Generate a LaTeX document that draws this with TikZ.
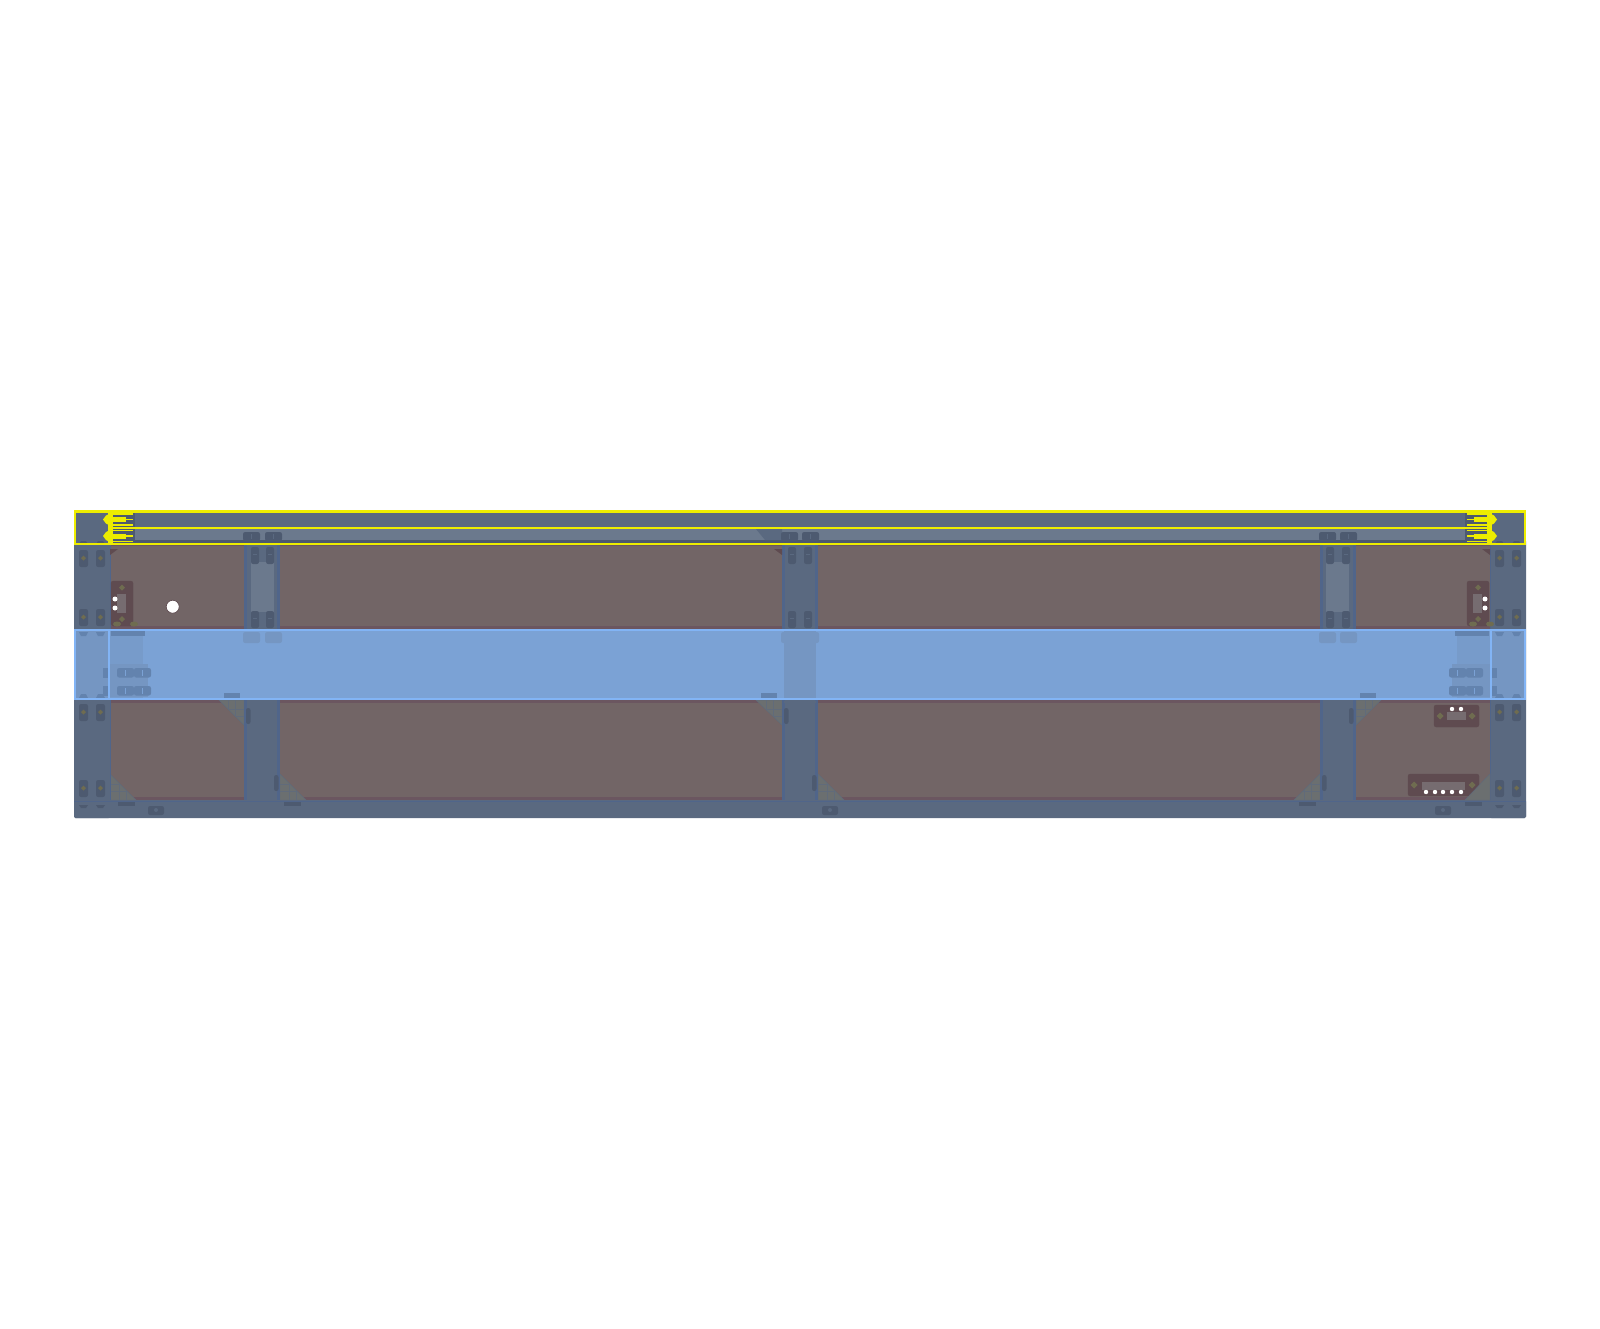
\documentclass[tikz,border=0pt]{standalone}
\definecolor{steelc}{HTML}{5A6980}
\definecolor{lightc}{HTML}{6B798D}
\definecolor{edgec}{HTML}{50658A}
\definecolor{slotc}{HTML}{4D5A70}
\definecolor{panelc}{HTML}{726566}
\definecolor{panelb}{HTML}{6B5660}
\definecolor{connc}{HTML}{5F4B50}
\definecolor{connin}{HTML}{766C70}
\definecolor{olivec}{HTML}{6F6C50}
\definecolor{gussetc}{HTML}{6B6F70}
\definecolor{bandc}{HTML}{7BA2D5}
\definecolor{bandl}{HTML}{82B4F5}
\definecolor{bandg}{HTML}{7596C2}
\definecolor{bands}{HTML}{6383AE}
\definecolor{yel}{HTML}{EDED00}
\tikzset{
  steel/.style={fill=steelc},
  slotbox/.style={fill=slotc, rounded corners=3pt},
  gusset/.style={fill=gussetc, draw=steelc!70!gussetc, line width=0.7pt},
  conn/.style={fill=connc, draw=connc, rounded corners=3pt},
  pin/.style={fill=olivec},
  hole/.style={fill=white},
  bandtab/.style={fill=bands, rounded corners=3pt},
  yline/.style={draw=yel, line width=3pt},
  ythin/.style={draw=yel, line width=2.6pt}
}
\begin{document}
\begin{tikzpicture}[x=0.05cm,y=-0.05cm]
  \useasboundingbox (0,0) rectangle (1600,1329);
  \fill[white] (0,0) rectangle (1600,1329);

  % panels
  \fill[panelc] (110,540) rectangle (1490,800);
  \fill[panelb] (110,540) rectangle (1490,546);
  \fill[panelb] (110,626) rectangle (1490,630);
  \fill[panelb] (110,699) rectangle (1490,703);
  \fill[panelb] (110,797) rectangle (1490,800);

  % gussets
  \foreach \ax/\ay/\bx/\by/\cx/\cy in {110/774/110/800/136/800, 219/700/244/700/244/725,
      280/774/280/800/306/800, 756/700/782/700/782/725, 818/774/818/800/844/800,
      1320/774/1320/800/1294/800, 1381/700/1356/700/1356/725} {
    \filldraw[gusset] (\ax,\ay) -- (\bx,\by) -- (\cx,\cy) -- cycle;
    \begin{scope}
      \clip (\ax,\ay) -- (\bx,\by) -- (\cx,\cy) -- cycle;
      \draw[steelc!60!gussetc, line width=0.5pt, shift={(\bx,\by)}]
        (-30,-9) -- (30,-9) (-30,-16) -- (30,-16) (-30,9) -- (30,9) (-30,16) -- (30,16)
        (-9,-30) -- (-9,30) (-16,-30) -- (-16,30) (9,-30) -- (9,30) (16,-30) -- (16,30);
    \end{scope}
  }

  % columns and rails
  \fill[steel, rounded corners=2pt] (74,540) rectangle (110,818);
  \fill[steel, rounded corners=2pt] (1490,540) rectangle (1526,818);
  \fill[steel, rounded corners=2pt] (74,800) rectangle (1526,818);
  \draw[edgec, line width=1pt] (74,801) -- (1526,801);
  \draw[edgec, line width=1pt] (110,544) -- (110,800) (1490,544) -- (1490,800);
  \foreach \vx in {244,782,1320} {
    \fill[steel] (\vx,540) rectangle ++(36,260);
    \fill[edgec] (\vx,540) rectangle ++(3,260);
    \fill[edgec] (\vx+33,540) rectangle ++(3,260);
  }
  \fill[lightc] (251,562) rectangle (274,612);
  \fill[lightc] (1326,562) rectangle (1349,612);

  % top rail
  \fill[steel] (74,511) rectangle (1526,544);
  \fill[lightc] (110,528) rectangle (1490,540);
  \fill[steelc!85!black] (110,540) rectangle (1490,544);
  \fill[steel] (756,529) -- (782,529) -- (782,540) -- (765,540) -- cycle;
  \fill[steel] (761,523) rectangle (778,528);
  \fill[connc] (110,549) -- (118,549) -- (110,555) -- cycle;
  \fill[connc] (774,549) -- (782,549) -- (782,555) -- cycle;
  \fill[connc] (1482,549) -- (1490,549) -- (1490,555) -- cycle;

  % slots in the columns
  \foreach \sx in {79,96,1495,1512} {
    \foreach \sy in {550,609,704,780} {
      \fill[slotbox] (\sx,\sy) rectangle ++(9,17);
      \fill[pin] (\sx+4.5,\sy+5.5) -- ++(2.5,2.5) -- ++(-2.5,2.5) -- ++(-2.5,-2.5) -- cycle;
    }
    \fill[slotc] (\sx,805) -- ++(9,0) -- ++(-2,3) -- ++(-5,0) -- cycle;
    \fill[slotc] (\sx+2,541) -- ++(5,0) -- ++(2,3) -- ++(-9,0) -- cycle;
  }
  % slots in the verticals
  \foreach \sx in {251,266,788,804,1326,1342} {
    \foreach \sy in {547,611} {
      \fill[slotbox] (\sx,\sy) rectangle ++(8,17);
      \draw[steelc, line width=0.7pt] (\sx+2,\sy+7) -- (\sx+6,\sy+7);
    }
  }
  \foreach \tx in {243,265,781,802,1319,1340} {
    \fill[slotbox] (\tx,532) rectangle ++(17,9);
    \draw[steelc, line width=0.7pt] (\tx+8.5,534) -- (\tx+8.5,539);
  }
  \foreach \tx/\ty in {246/708,274/775,784/708,812/775,1349/708,1322/775} {
    \fill[slotbox] (\tx,\ty) rectangle ++(4.5,16);
  }
  \foreach \tx in {148,822,1435} {
    \fill[slotbox] (\tx,806) rectangle ++(16,9);
    \fill[steelc] (\tx+8,810) circle (2);
  }
  \foreach \tx in {118,284,1299,1465} {
    \fill[slotc] (\tx,802) rectangle ++(17,4);
  }

  % connectors
  \foreach \cx/\wx in {111/115,1467/1485} {
    \filldraw[conn] (\cx,581) rectangle ++(22,45);
    \fill[connin] (\cx+6,594) rectangle ++(9,19);
    \fill[pin] (\cx+11,584.5) -- ++(3,3) -- ++(-3,3) -- ++(-3,-3) -- cycle;
    \fill[pin] (\cx+11,616) -- ++(3,3) -- ++(-3,3) -- ++(-3,-3) -- cycle;
    \fill[hole] (\wx,599) circle (2.5);
    \fill[hole] (\wx,608) circle (2.5);
    \fill[pin] (\cx+6,624) ellipse (4 and 2.5);
    \fill[pin] (\cx+23,624) ellipse (4 and 2.5);
  }
  \filldraw[conn] (1434,705) rectangle (1479,727);
  \fill[connin] (1447,712) rectangle (1466,720);
  \filldraw[conn] (1408,774) rectangle (1479,796);
  \fill[connin] (1422,782) rectangle (1465,790);
  \foreach \px/\py in {1440/716,1472/716,1414/785,1472/785} {
    \fill[pin] (\px,\py-3.5) -- ++(3.5,3.5) -- ++(-3.5,3.5) -- ++(-3.5,-3.5) -- cycle;
  }
  \foreach \wx/\wy in {1452/709,1461/709,1426/792,1435/792,1443/792,1452/792,1461/792} {
    \fill[hole] (\wx,\wy) circle (2.2);
  }
  \filldraw[gusset] (1490,774) -- (1490,800) -- (1465,800) -- cycle;

  % mounting hole
  \filldraw[fill=white, draw=connc, line width=1pt] (172.7,606.7) circle (6.5);

  % blue band
  \fill[bandc] (110,630) rectangle (1490,699);
  \fill[bandg] (74,630) rectangle (110,699);
  \fill[bandg] (1490,630) rectangle (1526,699);
  \fill[bandg!60!bandc] (110,630) rectangle (143,699);
  \fill[bandg!60!bandc] (1457,630) rectangle (1490,699);
  \fill[bandg] (110,664) rectangle (148,697);
  \fill[bandg] (1452,664) rectangle (1490,697);
  \fill[bandg] (784,630) rectangle (816,699);
  \fill[bands] (111,631) rectangle (145,636);
  \fill[bands] (1455,631) rectangle (1489,636);
  \foreach \tx in {243,265,781,802,1319,1340} {
    \fill[bandg, rounded corners=3pt] (\tx,632) rectangle ++(17,11);
  }
  \foreach \tx in {117,134,1449,1466} {
    \foreach \ty in {668,686} {
      \fill[bandtab] (\tx,\ty) rectangle ++(17,9.5);
      \draw[bandc, line width=0.7pt] (\tx+8.5,\ty+2) -- (\tx+8.5,\ty+7.5);
    }
  }
  \foreach \nx in {103,1492} {
    \foreach \ny in {668,686} {
      \fill[bands] (\nx,\ny) rectangle ++(5,9.5);
    }
  }
  \foreach \tx in {224,761,1360} {
    \fill[bands] (\tx,693) rectangle ++(16,6);
  }
  \foreach \sx in {79,96,1495,1512} {
    \fill[bands] (\sx+2,694) -- ++(5,0) -- ++(2,4) -- ++(-9,0) -- cycle;
    \fill[bands] (\sx,632) -- ++(9,0) -- ++(-2,4) -- ++(-5,0) -- cycle;
  }
  \draw[bandl, line width=2.6pt] (75,630) rectangle (1525,699);
  \draw[bandl, line width=2.6pt] (109,630) rectangle (1491,699);
  \fill[steel] (784,700.5) rectangle (816,703);

  % yellow blocks
  \foreach \yx/\yy/\dir in {108/113/1,1492/1487/-1} {
    \fill[slotc] (\yx,511) rectangle ++(\dir*27,33);
    \fill[yel] (\yx,511) rectangle (\yy,544);
    \foreach \gy in {519.5,536} {
      \fill[yel] (\yx,\gy-5) -- ++(-\dir*2,1) -- ++(-\dir*3,4) -- ++(\dir*3,4) -- ++(\dir*2,1) -- cycle;
      \fill[yel] (\yy,\gy-2.5) rectangle ++(\dir*13,5);
      \draw[ythin] (\yy,\gy) -- ++(\dir*20,0);
      \draw[ythin] (\yy,\gy-5.5) -- ++(\dir*20,0);
      \draw[ythin] (\yy,\gy+5.5) -- ++(\dir*20,0);
    }
  }
  \draw[yline] (75,511.5) rectangle (1525,544);
  \draw[yline] (108,527.7) -- (1492,527.7);
\end{tikzpicture}
\end{document}
